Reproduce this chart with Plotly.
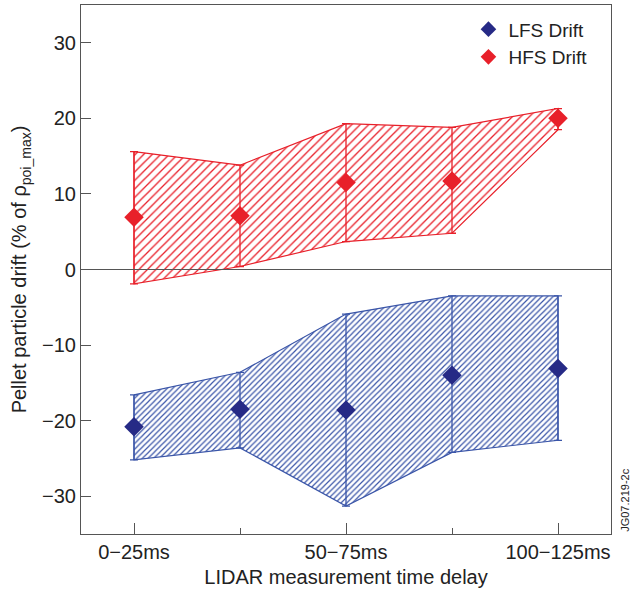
import plotly.graph_objects as go

# Time-delay bins (x positions 1..5); only alternate bins carry a label
categories = [1, 2, 3, 4, 5]
label_positions = [1, 3, 5]
tick_text = ["0\u221225ms", "50\u221275ms", "100\u2212125ms"]
unlabelled_positions = [2, 4]

# HFS drift: mean value and range limits (% of rho_poi_max)
hfs_mean = [6.9, 7.1, 11.5, 11.7, 20.0]
hfs_upper = [15.6, 13.8, 19.3, 18.8, 21.3]
hfs_lower = [-1.9, 0.4, 3.7, 4.8, 18.5]

# LFS drift: mean value and range limits
lfs_mean = [-20.8, -18.5, -18.6, -14.0, -13.1]
lfs_upper = [-16.6, -13.6, -5.9, -3.5, -3.5]
lfs_lower = [-25.2, -23.6, -31.3, -24.2, -22.6]

RED = "#e8202a"
BLUE_LINE = "#3a55a8"
BLUE_MARK = "#262a86"
AXIS = "#555555"
TEXT = "#222222"
FONT = "Liberation Sans, Arial, sans-serif"
FS = 20

fig = go.Figure()


def add_band(upper, lower, color, size, solidity):
    xs = categories + categories[::-1]
    ys = upper + lower[::-1]
    fig.add_trace(go.Scatter(
        x=xs + [xs[0]], y=ys + [ys[0]], mode="lines", fill="toself",
        fillcolor="rgba(0,0,0,0)",
        fillpattern=dict(shape="/", fgcolor=color, bgcolor="rgba(255,255,255,0)",
                         fgopacity=1, size=size, solidity=solidity),
        line=dict(color=color, width=1.2), showlegend=False, hoverinfo="skip"))


def add_points(mean, upper, lower, line_color, mark_color, name):
    fig.add_trace(go.Scatter(
        x=categories, y=mean, mode="markers", name=name,
        marker=dict(symbol="diamond", size=15, color=mark_color),
        error_y=dict(type="data", symmetric=False,
                     array=[u - m for u, m in zip(upper, mean)],
                     arrayminus=[m - l for m, l in zip(mean, lower)],
                     color=line_color, thickness=1.3, width=4)))


add_band(hfs_upper, hfs_lower, RED, 6, 0.22)
add_band(lfs_upper, lfs_lower, BLUE_LINE, 4, 0.3)
add_points(lfs_mean, lfs_upper, lfs_lower, BLUE_LINE, BLUE_MARK, "LFS Drift")
add_points(hfs_mean, hfs_upper, hfs_lower, RED, RED, "HFS Drift")

# Zero reference line
fig.add_shape(type="line", xref="paper", x0=0, x1=1, yref="y", y0=0, y1=0,
              line=dict(color=AXIS, width=1.2))

fig.update_layout(
    width=633, height=590,
    margin=dict(l=81, r=22, t=5, b=56),
    paper_bgcolor="white", plot_bgcolor="white",
    font=dict(family=FONT, size=FS, color=TEXT),
    showlegend=True,
    legend=dict(x=0.965, y=0.99, xanchor="right", yanchor="top",
                bgcolor="rgba(0,0,0,0)", font=dict(family=FONT, size=19, color=TEXT),
                itemsizing="constant", tracegroupgap=0),
    xaxis=dict(range=[0.5, 5.5], tickmode="array", tickvals=label_positions, ticktext=tick_text,
               tickfont=dict(family=FONT, size=FS, color=TEXT),
               ticks="inside", ticklen=11, tickcolor=AXIS, showgrid=False, zeroline=False,
               minor=dict(tickmode="array", tickvals=unlabelled_positions, ticks="inside",
                          ticklen=6, tickcolor=AXIS, showgrid=False),
               showline=True, linecolor=AXIS, linewidth=1.2, mirror=True,
               title=dict(text="LIDAR measurement time delay", standoff=7,
                          font=dict(family=FONT, size=FS, color=TEXT))),
    yaxis=dict(range=[-35, 35], tickvals=[-30, -20, -10, 0, 10, 20, 30],
               tickfont=dict(family=FONT, size=FS, color=TEXT),
               ticks="inside", ticklen=10, tickcolor=AXIS, showgrid=False, zeroline=False,
               showline=True, linecolor=AXIS, linewidth=1.2, mirror=True,
               title=dict(text="Pellet particle drift (% of \u03c1<sub>poi_max</sub>)", standoff=9,
                          font=dict(family=FONT, size=FS, color=TEXT))),
)

fig.add_annotation(text="JG07.219-2c", xref="paper", yref="paper", x=1.01, y=0.0,
                   xanchor="left", yanchor="bottom", textangle=-90, showarrow=False,
                   font=dict(size=11, color=TEXT))

fig.write_html("out.html")
